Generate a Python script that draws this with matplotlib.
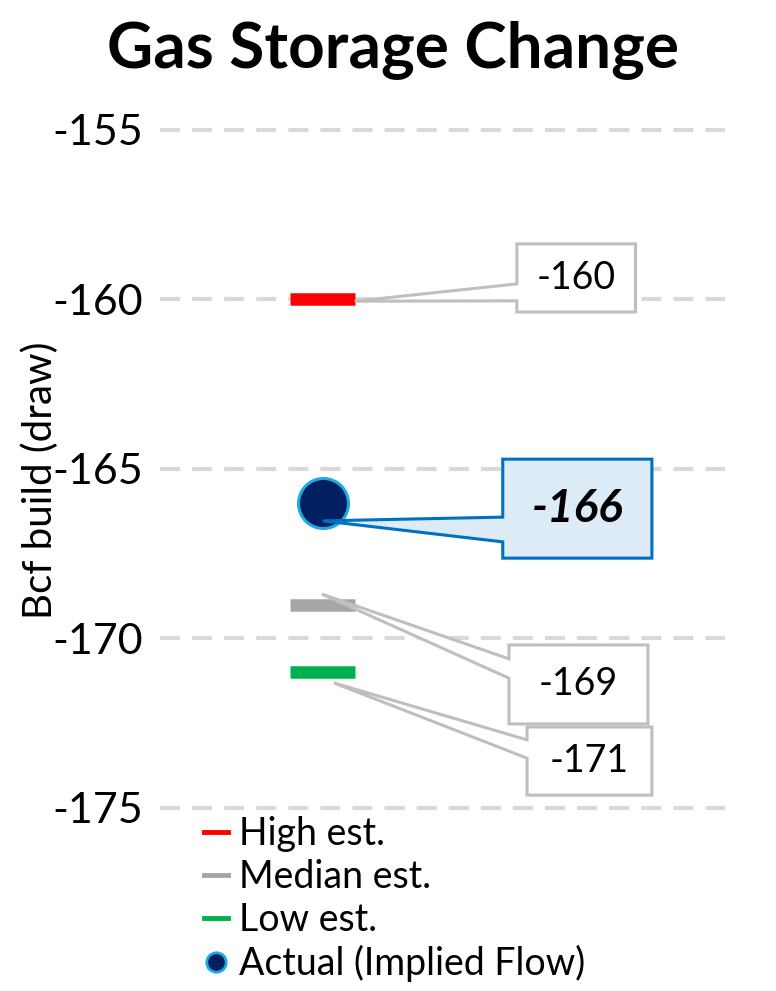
'''
Gas storage change: estimates vs. actual, with callout labels.
'''

import matplotlib
matplotlib.use('Agg')
import matplotlib.pyplot as plt
from matplotlib.lines import Line2D
from matplotlib.patches import Polygon

plt.rcParams['font.family'] = ['Lato', 'DejaVu Sans']

# data
est_labels = ['High est.', 'Median est.', 'Low est.']
est_values = [-160, -169, -171]
est_colors = ['#FF0000', '#A6A6A6', '#00B050']
actual_label = 'Actual (Implied Flow)'
actual_value = -166
y_ticks = [-155, -160, -165, -170, -175]

X_POS = 0.2885
HALF_W = 0.0575

# callout boxes: (left, right, top, bottom, wedge_top, wedge_bottom, anchor_dx, anchor_dy)
callouts = {
    -160: (0.632, 0.842, -158.36, -160.37, -159.54, -160.04, 0.0565, -0.05),
    -169: (0.618, 0.864, -170.19, -172.52, -170.60, -171.17, -0.0015, 0.31),
    -171: (0.650, 0.871, -172.61, -174.62, -172.99, -173.53, 0.0195, -0.31),
    -166: (0.607, 0.871, -164.71, -167.63, -166.42, -167.15, 0.0, -0.53),
}


def draw_callout(ax, value, text, edge, face, bold=False):
    left, right, top, bottom, wt, wb, dx, dy = callouts[value]
    ax_x = X_POS + dx
    ax_y = value + dy
    pts = [(left, top), (right, top), (right, bottom), (left, bottom),
           (left, wb), (ax_x, ax_y), (left, wt)]
    ax.add_patch(Polygon(pts, closed=True, facecolor=face, edgecolor=edge,
                         linewidth=2.2, zorder=5, joinstyle='miter'))
    ax.text((left + right) / 2, (top + bottom) / 2, text,
            ha='center', va='center', zorder=6,
            fontsize=33 if bold else 27,
            fontweight='bold' if bold else 'normal',
            fontstyle='italic' if bold else 'normal')


fig = plt.figure(figsize=(7.76, 9.91), dpi=100)
ax = fig.add_axes([0.206, 0.1744, 0.728, 0.7047])
ax.set_xlim(0, 1)
ax.set_ylim(-175.3, -154.7)

for t in y_ticks:
    ax.axhline(t, color='#D9D9D9', linewidth=3, linestyle=(0, (4.8, 2.9)), zorder=1)

for val, col in zip(est_values, est_colors):
    ax.hlines(val, X_POS - HALF_W, X_POS + HALF_W, color=col, linewidth=9, zorder=3)

ax.plot([X_POS], [actual_value], marker='o', markersize=36, color='#002060',
        markeredgecolor='#1CA9E6', markeredgewidth=2.2, zorder=4, clip_on=False)

for val in est_values:
    draw_callout(ax, val, str(val), '#BFBFBF', 'white')
draw_callout(ax, actual_value, str(actual_value), '#0070C0', '#DDEBF7', bold=True)

ax.set_yticks(y_ticks)
ax.set_yticklabels([str(t) for t in y_ticks], fontsize=31)
ax.set_xticks([])
ax.tick_params(axis='y', length=0, pad=12)
for s in ax.spines.values():
    s.set_visible(False)

fig.text(40 / 776, 1 - 480 / 991, 'Bcf build (draw)', rotation=90,
         ha='center', va='center', fontsize=29)
fig.text(393 / 776, 1 - 50 / 991, 'Gas Storage Change', ha='center', va='center',
         fontsize=46, fontweight='bold')

handles = [Line2D([], [], color=c, linewidth=3.5) for c in est_colors]
handles.append(Line2D([], [], linestyle='none', marker='o', markersize=14,
                      color='#002060', markeredgecolor='#1CA9E6', markeredgewidth=2))
fig.legend(handles, est_labels + [actual_label], loc='lower left',
           bbox_to_anchor=(195 / 776, 0.0), frameon=False, fontsize=27,
           handlelength=0.62, handletextpad=0.3, labelspacing=0.18,
           borderpad=0.15, borderaxespad=0.1)

fig.savefig('out.png', dpi=100)
